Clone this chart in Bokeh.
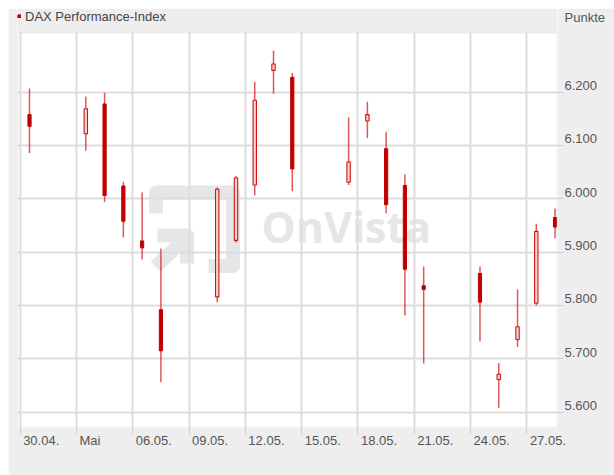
from bokeh.plotting import figure
from bokeh.models import (FixedTicker, Legend, LegendItem, Range1d, ColumnDataSource,
                          BoxAnnotation)
from bokeh.embed import file_html
from bokeh.resources import INLINE
from bokeh.core.properties import value

# ---------------- data ----------------
dates = ["30.04.", "03.05.", "04.05.", "05.05.", "06.05.", "07.05.", "10.05.",
         "11.05.", "12.05.", "13.05.", "14.05.", "17.05.", "18.05.", "19.05.",
         "20.05.", "21.05.", "24.05.", "25.05.", "26.05.", "27.05.", "28.05."]
opens = [6158, 6122, 6178, 6024, 5921, 5792, 5816, 5922, 6026, 6241, 6228,
         6031, 6146, 6094, 6025, 5837, 5860, 5661, 5736, 5804, 5965]
highs = [6207, 6192, 6199, 6032, 6012, 5907, 6021, 6043, 6219, 6278, 6236,
         6153, 6182, 6126, 6046, 5873, 5873, 5692, 5830, 5953, 5982]
lows = [6086, 6090, 5994, 5928, 5886, 5656, 5806, 5918, 6006, 6197, 6014,
        6026, 6114, 5973, 5781, 5691, 5733, 5608, 5722, 5800, 5926]
closes = [6136, 6169, 6006, 5958, 5908, 5715, 6018, 6039, 6185, 6253, 6056,
          6069, 6158, 5989, 5868, 5830, 5806, 5671, 5760, 5939, 5947]

x_tick_days = [0, 3, 6, 9, 12, 15, 18, 21, 24, 27]
x_tick_labels = ["30.04.", "Mai", "06.05.", "09.05.", "12.05.", "15.05.",
                 "18.05.", "21.05.", "24.05.", "27.05."]
y_ticks = [5600, 5700, 5800, 5900, 6000, 6100, 6200]
y_tick_labels = ["5.600", "5.700", "5.800", "5.900", "6.000", "6.100", "6.200"]

series_name = "DAX Performance-Index"
unit_name = "Punkte"

# ---------------- layout constants ----------------
MARGIN = 8
W, H = 606, 467
BL, BR = 9, 57
STRIP = 24          # grey header strip (inside the frame)
FH = 395            # height of the white plot area
BB = H - STRIP - FH
X0, X1 = -0.14, 28.63
Y0, YTOP = 5571, 6312
FW = W - BL - BR
PXD = FW / (X1 - X0)
PXV = FH / (YTOP - Y0)
Y1 = YTOP + STRIP / PXV

FONT = "Liberation Sans"
TXT = "#555555"
BG = "#eeeeee"


def day_of(d):
    dd, mm = int(d[0:2]), int(d[3:5])
    return dd - 30 if mm == 4 else dd


xs = [day_of(d) + 0.5 for d in dates]
up = [c >= o for o, c in zip(opens, closes)]

src_up = ColumnDataSource(dict(
    x=[x for x, u in zip(xs, up) if u],
    top=[c for c, u in zip(closes, up) if u],
    bottom=[o for o, u in zip(opens, up) if u]))
src_dn = ColumnDataSource(dict(
    x=[x for x, u in zip(xs, up) if not u],
    top=[o for o, u in zip(opens, up) if not u],
    bottom=[c for c, u in zip(closes, up) if not u]))
src_w = ColumnDataSource(dict(x=xs, hi=highs, lo=lows))

p = figure(width=W, height=H, output_backend="svg", toolbar_location=None,
           x_range=Range1d(X0, X1), y_range=Range1d(Y0, Y1),
           y_axis_location="right",
           min_border_left=BL, min_border_right=BR, min_border_top=0,
           min_border_bottom=BB, background_fill_color="white",
           border_fill_color=BG, outline_line_color=None)
p.margin = (MARGIN, 0, 0, MARGIN)


def px2x(px):
    return X0 + (px - MARGIN - BL) / PXD


def px2y(py):
    return Y1 - (py - MARGIN) / PXV


# ---------------- watermark (decoration, under the grid) ----------------
wm = dict(line_color="#e6e6e6", line_width=14, line_join="round",
          line_cap="butt", level="underlay")
p.multi_line(xs=[[px2x(155.5), px2x(155.5), px2x(232.5), px2x(232.5), px2x(208)],
                 [px2x(155), px2x(185)],
                 [px2x(157), px2x(186.5), px2x(186.5)]],
             ys=[[px2y(213), px2y(192), px2y(192), px2y(265.5), px2y(265.5)],
                 [px2y(266), px2y(238)],
                 [px2y(235), px2y(235), px2y(263)]], **wm)
p.text(x=[px2x(261)], y=[px2y(226)], text=["OnVista"],
       text_font=value("Open Sans"), text_font_style="bold",
       text_font_size="43px", text_color="#e6e6e6",
       text_baseline="alphabetic", level="underlay")

# ---------------- candles ----------------
p.segment(x0="x", y0="lo", x1="x", y1="hi", source=src_w,
          line_color="#d42020", line_alpha=0.75, line_width=1.5)
p.vbar(x="x", top="top", bottom="bottom", width=0.18, source=src_up,
       fill_color="#f6d2d2", line_color="#cc1515", line_width=1.1)
r_dn = p.vbar(x="x", top="top", bottom="bottom", width=0.17, source=src_dn,
              fill_color="#c00000", line_color="#c00000", line_width=1)

# ---------------- axes & grid ----------------
cw = {".": 0.278, "M": 0.833, "a": 0.556, "i": 0.222}


def text_w(s, size=13):
    return sum(cw.get(ch, 0.556) for ch in s) * size


x_label_pos = [t + (3 + text_w(s) / 2) / PXD for t, s in zip(x_tick_days, x_tick_labels)]
xa = p.xaxis[0]
xa.ticker = FixedTicker(ticks=x_label_pos, minor_ticks=x_tick_days)
xa.major_label_overrides = {pos: s for pos, s in zip(x_label_pos, x_tick_labels)}
xa.major_tick_out = 0
xa.major_tick_in = 0
xa.minor_tick_out = 7
xa.minor_tick_in = 0
xa.minor_tick_line_color = "#cccccc"
xa.axis_line_color = None
xa.major_label_standoff = -2
xa.major_label_text_font = FONT
xa.major_label_text_font_size = "13px"
xa.major_label_text_color = TXT

# right axis: value labels sit slightly above their grid line; the unit
# name is shown at the top of the same column
y_label_pos = [v + 6.7 / PXV for v in y_ticks]
unit_pos = px2y(16.5)
ya = p.yaxis[0]
ya.ticker = FixedTicker(ticks=y_label_pos + [unit_pos], minor_ticks=y_ticks)
overrides = {pos: s for pos, s in zip(y_label_pos, y_tick_labels)}
overrides[unit_pos] = unit_name
ya.major_label_overrides = overrides
ya.major_tick_out = 0
ya.major_tick_in = 0
ya.minor_tick_out = 6
ya.minor_tick_in = 0
ya.minor_tick_line_color = "#cccccc"
ya.axis_line_color = None
ya.major_label_standoff = 1
ya.major_label_text_font = FONT
ya.major_label_text_font_size = "13px"
ya.major_label_text_color = TXT

p.xgrid.ticker = FixedTicker(ticks=x_tick_days)
p.ygrid.ticker = FixedTicker(ticks=y_ticks)
for g in (p.xgrid, p.ygrid):
    g.grid_line_color = "#dddddd"
    g.grid_line_width = 2

# grey header strip over the top of the frame, and the plot-area border
p.add_layout(BoxAnnotation(bottom=YTOP, fill_color=BG, fill_alpha=1,
                           line_color=None))
p.add_layout(BoxAnnotation(bottom=Y0, top=YTOP, fill_alpha=0,
                           line_color="#d2d2d2", line_width=2))

# ---------------- legend ----------------
legend = Legend(items=[LegendItem(label=series_name, renderers=[r_dn])],
                location="top_left", orientation="horizontal",
                glyph_width=4, glyph_height=4, label_standoff=4,
                padding=0, margin=0, spacing=0,
                border_line_color=None, background_fill_alpha=0,
                label_text_font=FONT, label_text_font_size="13px",
                label_text_color="#444444", label_height=16)
p.add_layout(legend)

open("out.html", "w").write(file_html(p, INLINE))
